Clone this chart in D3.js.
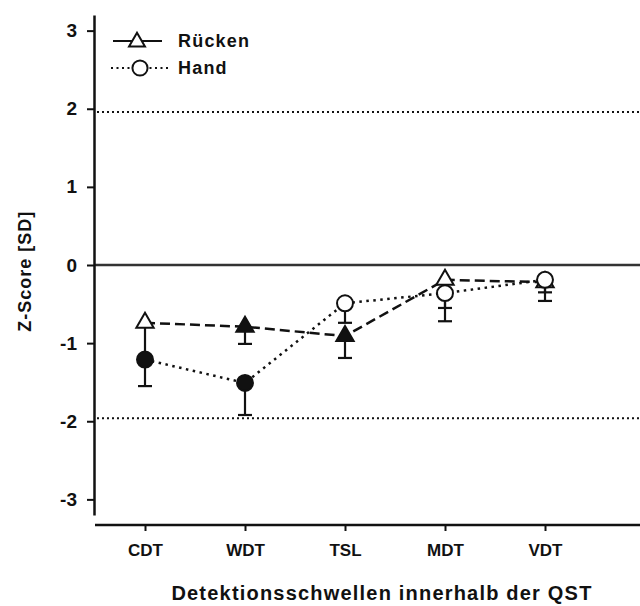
<!DOCTYPE html>
<html>
<head>
<meta charset="utf-8">
<script src="https://cdn.jsdelivr.net/npm/d3@7"></script>
<style>
    html, body { margin: 0; padding: 0; background: #fff; }
    svg { display: block; font-family: 'Liberation Sans', Arial, sans-serif; }
</style>
</head>
<body>
<svg id="chart" width="640" height="606"></svg>
<script>
const categories = ['CDT', 'WDT', 'TSL', 'MDT', 'VDT'];
const yTicks = [-3, -2, -1, 0, 1, 2, 3];
const limit = 1.96;

// Rücken: mean and lower end of the (one-sided) error bar
const rueckenMean = [-0.74, -0.79, -0.91, -0.19, -0.22];
const rueckenLower = [-1.21, -1.01, -1.19, -0.55, -0.35];
const rueckenFilled = [false, true, true, false, false];

// Hand
const handMean = [-1.21, -1.51, -0.49, -0.36, -0.19];
const handLower = [-1.55, -1.92, -0.74, -0.72, -0.46];
const handFilled = [true, true, false, false, false];

const INK = '#111';
const width = 640;

const series = [
    {
        name: 'Rücken',
        symbol: d3.symbolTriangle,
        dash: '10,5',
        points: categories.map((c, i) => ({ c, v: rueckenMean[i], lo: rueckenLower[i], filled: rueckenFilled[i] })),
    },
    {
        name: 'Hand',
        symbol: d3.symbolCircle,
        dash: '2.5,4.5',
        points: categories.map((c, i) => ({ c, v: handMean[i], lo: handLower[i], filled: handFilled[i] })),
    },
];

const svg = d3.select('#chart');

const x = d3.scalePoint().domain(categories).range([145, 545]);
const y = d3.scaleLinear().domain([-3.2, 3.2]).range([515, 15]);

const plotLeft = 94;

// reference lines
svg.append('line')
    .attr('x1', plotLeft).attr('x2', width)
    .attr('y1', y(0)).attr('y2', y(0))
    .attr('stroke', '#333').attr('stroke-width', 2.5);

svg.selectAll('.limit')
    .data([limit, -limit])
    .join('line')
    .attr('class', 'limit')
    .attr('x1', plotLeft + 3).attr('x2', width)
    .attr('y1', d => y(d)).attr('y2', d => y(d))
    .attr('stroke', INK).attr('stroke-width', 2)
    .attr('stroke-dasharray', '2,3');

// y axis
const yAxis = svg.append('g')
    .attr('transform', `translate(${plotLeft},0)`)
    .call(d3.axisLeft(y)
        .tickValues(yTicks)
        .tickFormat(d => String(d))
        .tickSize(7)
        .tickSizeOuter(0)
        .tickPadding(10));
yAxis.select('.domain').attr('stroke', INK).attr('stroke-width', 2.5);
yAxis.selectAll('.tick line').attr('stroke', INK).attr('stroke-width', 2);
yAxis.selectAll('.tick text')
    .attr('fill', INK)
    .style('font-size', '19px')
    .style('font-weight', 'bold');

// x axis (offset from y axis, Prism style)
const xAxisY = 525;
const xAxis = svg.append('g')
    .attr('transform', `translate(0,${xAxisY})`)
    .call(d3.axisBottom(x).tickSize(6).tickPadding(13));
xAxis.select('.domain').remove();
xAxis.append('line')
    .attr('x1', x(categories[0]) - 50).attr('x2', width)
    .attr('stroke', INK).attr('stroke-width', 2.5);
xAxis.selectAll('.tick line').attr('stroke', INK).attr('stroke-width', 2);
xAxis.selectAll('.tick text')
    .attr('fill', INK)
    .style('font-size', '17px')
    .style('font-weight', 'bold');

// axis titles
svg.append('text')
    .attr('transform', `translate(31,${y(-0.08)}) rotate(-90)`)
    .attr('text-anchor', 'middle')
    .attr('fill', INK)
    .style('font-size', '18px')
    .style('font-weight', 'bold')
    .style('letter-spacing', '1px')
    .text('Z-Score [SD]');

svg.append('text')
    .attr('x', 382).attr('y', 600)
    .attr('text-anchor', 'middle')
    .attr('fill', INK)
    .style('font-size', '20px')
    .style('font-weight', 'bold')
    .style('letter-spacing', '1.2px')
    .text('Detektionsschwellen innerhalb der QST');

// series lines
const line = d3.line().x(d => x(d.c)).y(d => y(d.v));

const groups = svg.selectAll('.series')
    .data(series)
    .join('g')
    .attr('class', 'series');

groups.append('path')
    .attr('d', d => line(d.points))
    .attr('fill', 'none')
    .attr('stroke', INK)
    .attr('stroke-width', 2.5)
    .attr('stroke-dasharray', d => d.dash);

// error bars and markers
groups.each(function (s) {
    const g = d3.select(this);
    const bars = g.selectAll('.err')
        .data(s.points)
        .join('g')
        .attr('class', 'err');
    bars.append('line')
        .attr('x1', d => x(d.c)).attr('x2', d => x(d.c))
        .attr('y1', d => y(d.v)).attr('y2', d => y(d.lo))
        .attr('stroke', INK).attr('stroke-width', 2.2);
    bars.append('line')
        .attr('x1', d => x(d.c) - 7).attr('x2', d => x(d.c) + 7)
        .attr('y1', d => y(d.lo)).attr('y2', d => y(d.lo))
        .attr('stroke', INK).attr('stroke-width', 2.2);

    g.selectAll('.mark')
        .data(s.points)
        .join('path')
        .attr('class', 'mark')
        .attr('transform', d => `translate(${x(d.c)},${y(d.v)})`)
        .attr('d', d3.symbol(s.symbol, s.symbol === d3.symbolCircle ? 200 : 130))
        .attr('fill', d => (d.filled ? INK : '#fff'))
        .attr('stroke', INK)
        .attr('stroke-width', 2);
});

// legend
const legend = svg.append('g');
const legendRows = [
    { s: series[0], y: 41, x1: 113, x2: 162, mx: 137, dash: null },
    { s: series[1], y: 68, x1: 111, x2: 170, mx: 140, dash: '2,3.5' },
];
legendRows.forEach(r => {
    legend.append('line')
        .attr('x1', r.x1).attr('x2', r.x2)
        .attr('y1', r.y).attr('y2', r.y)
        .attr('stroke', INK).attr('stroke-width', 2)
        .attr('stroke-dasharray', r.dash);
    legend.append('path')
        .attr('transform', `translate(${r.mx},${r.y + (r.s.symbol === d3.symbolCircle ? 0 : 1)})`)
        .attr('d', d3.symbol(r.s.symbol, r.s.symbol === d3.symbolCircle ? 180 : 110))
        .attr('fill', '#fff')
        .attr('stroke', INK)
        .attr('stroke-width', 2);
    legend.append('text')
        .attr('x', 178).attr('y', r.y + 6)
        .attr('fill', INK)
        .style('font-size', '18px')
        .style('font-weight', 'bold')
        .style('letter-spacing', '1.2px')
        .text(r.s.name);
});
</script>
</body>
</html>
